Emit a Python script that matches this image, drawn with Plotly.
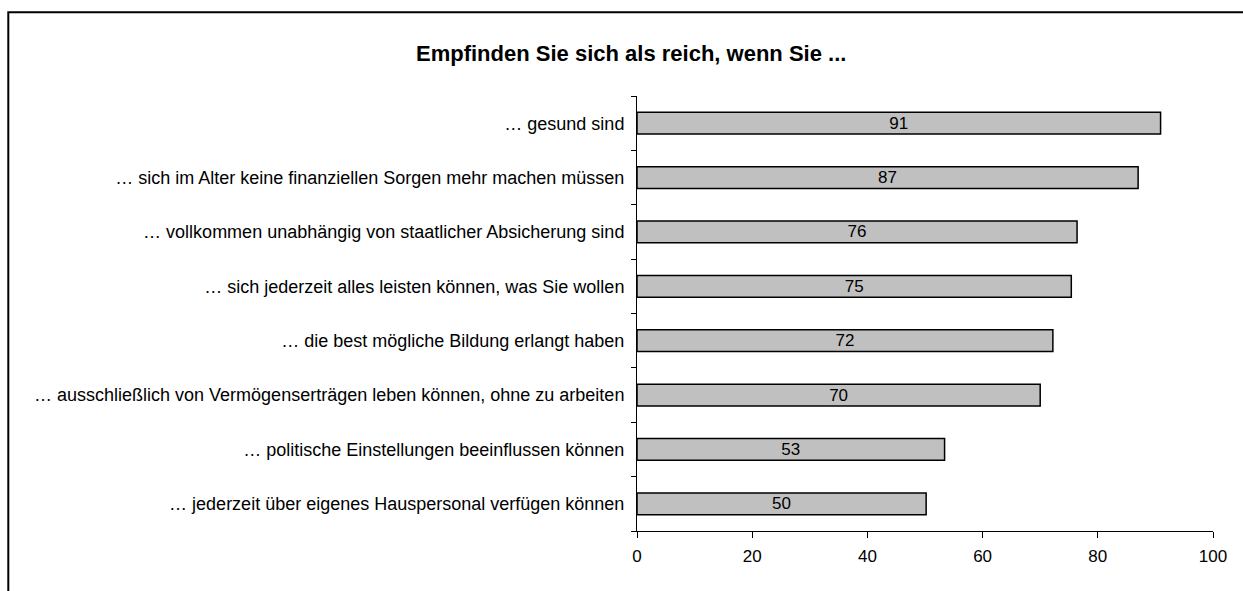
import plotly.graph_objects as go

categories = [
    "… gesund sind",
    "… sich im Alter keine finanziellen Sorgen mehr machen müssen",
    "… vollkommen unabhängig von staatlicher Absicherung sind",
    "… sich jederzeit alles leisten können, was Sie wollen",
    "… die best mögliche Bildung erlangt haben",
    "… ausschließlich von Vermögenserträgen leben können, ohne zu arbeiten",
    "… politische Einstellungen beeinflussen können",
    "… jederzeit über eigenes Hauspersonal verfügen können",
]
values = [90.9, 87.0, 76.4, 75.4, 72.2, 70.0, 53.4, 50.2]
x_ticks = [0, 20, 40, 60, 80, 100]
title = "Empfinden Sie sich als reich, wenn Sie ..."

W, H = 1243, 591
L, R, T, B = 637, 30, 96, 60
pw, ph = W - L - R, H - T - B

def px_x(px):
    return (px - L) / pw

def px_y(py):
    return (H - B - py) / ph

FONT = "Liberation Sans, Arial, sans-serif"

fig = go.Figure(
    go.Bar(
        x=values,
        y=categories,
        orientation="h",
        marker=dict(color="#C0C0C0", line=dict(color="black", width=1.5)),
        width=0.4,
        text=[f"{v:.0f}" for v in values],
        textposition="inside",
        insidetextanchor="middle",
        textangle=0,
        textfont=dict(color="black", size=17, family=FONT),
        constraintext="none",
        hoverinfo="x+y",
    )
)

fig.update_layout(
    width=W,
    height=H,
    margin=dict(l=L, r=R, t=T, b=B, pad=0),
    paper_bgcolor="white",
    plot_bgcolor="white",
    showlegend=False,
    font=dict(family=FONT, size=18, color="black"),
    xaxis=dict(
        range=[0, 100],
        tickvals=x_ticks,
        ticks="outside",
        ticklen=6,
        tickwidth=1,
        tickcolor="black",
        showline=True,
        linecolor="black",
        linewidth=1,
        showgrid=False,
        zeroline=False,
        ticklabelstandoff=4,
        tickfont=dict(size=17),
    ),
    yaxis=dict(
        categoryorder="array",
        categoryarray=categories[::-1],
        range=[-0.5, len(categories) - 0.5],
        tickson="boundaries",
        ticks="outside",
        ticklen=5,
        tickwidth=1,
        tickcolor="black",
        showline=True,
        linecolor="black",
        linewidth=1,
        showgrid=False,
        zeroline=False,
        ticklabelstandoff=8,
        tickfont=dict(size=18),
    ),
    annotations=[
        dict(
            text=f"<b>{title}</b>",
            xref="paper",
            yref="paper",
            x=px_x(631),
            y=px_y(53),
            xanchor="center",
            yanchor="middle",
            showarrow=False,
            font=dict(size=22, color="black"),
        )
    ],
    shapes=[
        dict(
            type="rect",
            xref="paper",
            yref="paper",
            x0=px_x(8.3),
            x1=px_x(W + 20),
            y0=px_y(H + 20),
            y1=px_y(12.3),
            line=dict(color="black", width=2),
            fillcolor="rgba(0,0,0,0)",
        )
    ],
)

fig.write_html(
    "out.html",
    config={"displayModeBar": False},
    post_script="document.body.style.margin='0';document.body.style.overflow='hidden';",
)
